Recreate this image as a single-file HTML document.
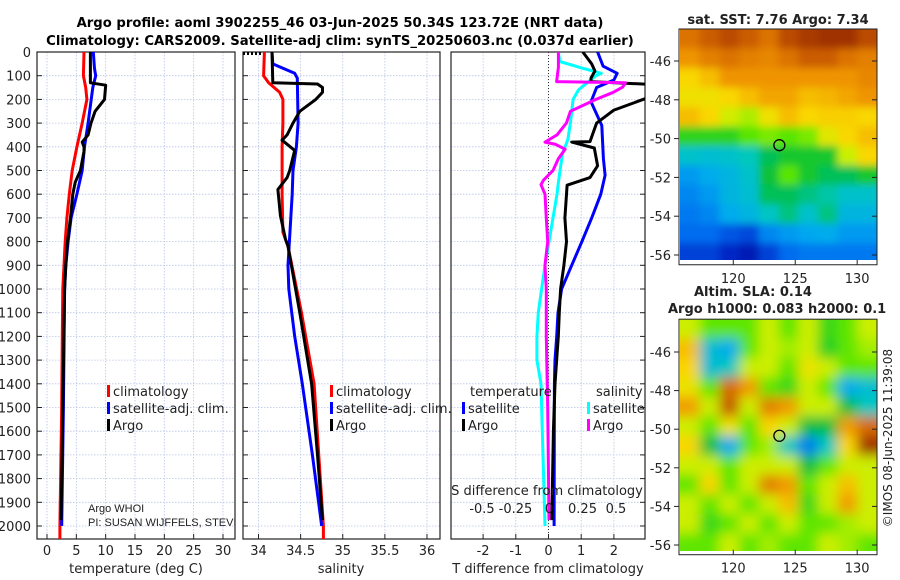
<!DOCTYPE html>
<html><head><meta charset="utf-8"><style>
body{margin:0;background:#fff;}
svg{display:block;font-family:"DejaVu Sans","Liberation Sans",sans-serif;}
</style></head><body>
<svg id="c" width="900" height="580" viewBox="0 0 900 580" xmlns="http://www.w3.org/2000/svg">
<defs>
<clipPath id="cp1"><rect x="37" y="52" width="198" height="487"/></clipPath>
<clipPath id="cp2"><rect x="243" y="52" width="197" height="487"/></clipPath>
<clipPath id="cp3"><rect x="451" y="52" width="194" height="487"/></clipPath>
<clipPath id="cpm1"><rect x="680" y="29" width="197" height="231"/></clipPath>
<clipPath id="cpm2"><rect x="680" y="319" width="197" height="232"/></clipPath>
<filter id="bl1"><feGaussianBlur stdDeviation="4"/></filter>
<filter id="bl2"><feGaussianBlur stdDeviation="6"/></filter>
</defs>
<text x="340" y="27" text-anchor="middle" font-weight="bold" font-size="13.2">Argo profile: aoml 3902255_46 03-Jun-2025 50.34S 123.72E (NRT data)</text>
<text x="340" y="45" text-anchor="middle" font-weight="bold" font-size="13.2">Climatology: CARS2009. Satellite-adj clim: synTS_20250603.nc (0.037d earlier)</text>
<g id="g"></g>
</svg>
<script>
// depth axis
const depthTicks=[0,100,200,300,400,500,600,700,800,900,1000,1100,1200,1300,1400,1500,1600,1700,1800,1900,2000];
// temperature panel
const tTicks=[0,5,10,15,20,25,30];
const tClimD=[0,100,150,200,300,400,500,600,700,800,900,1000,1200,1500,2000,2060];
const tClimV=[6.3,6.2,6.6,6.8,6.0,5.1,4.3,3.8,3.4,3.1,2.9,2.7,2.6,2.5,2.2,2.2];
const tSatD=[0,70,100,150,300,400,500,600,700,800,900,1000,1500,2000];
const tSatV=[7.9,8.1,8.3,7.8,7.0,6.4,6.0,5.1,4.1,3.6,3.2,3.0,2.8,2.5];
const tArgoD=[0,130,140,200,250,300,350,380,400,420,500,550,600,700,800,900,1000,1500,1975];
const tArgoV=[7.4,7.4,10,9.8,8.2,7.5,7.0,6.0,6.3,6.3,5.7,4.8,4.4,4.0,3.5,3.2,3.0,2.7,2.4];
// salinity panel
const sTicks=[34,34.5,35,35.5,36];
const sClimD=[0,100,130,170,200,300,400,500,600,760,820,1100,1400,2000,2060];
const sClimV=[34.07,34.06,34.12,34.25,34.29,34.29,34.28,34.28,34.28,34.29,34.35,34.51,34.66,34.77,34.77];
const sSatD=[0,50,70,90,110,300,400,500,600,900,1000,1200,1400,1700,2000];
const sSatV=[34.16,34.17,34.30,34.43,34.46,34.47,34.45,34.41,34.40,34.35,34.36,34.43,34.52,34.64,34.75];
const sArgoD=[0,130,135,150,170,200,250,300,350,372,415,500,530,580,690,790,820,1100,1400,1700,1975];
const sArgoV=[34.16,34.17,34.70,34.76,34.76,34.68,34.49,34.41,34.34,34.28,34.43,34.37,34.34,34.23,34.26,34.32,34.35,34.49,34.63,34.70,34.76];
// difference panel
const dtTicks=[-2,-1,0,1,2];
const dsTicks=[-0.5,-0.25,0,0.25,0.5];
const dsTickLabels=["-0.5","-0.25","0","0.25","0.5"];
const dtArgoD=[0,50,80,110,125,137,185,245,300,378,380,405,480,530,562,600,700,800,900,1000,1100,1200,1400,1600,1975];
const dtArgoV=[1.05,1.32,1.42,1.3,1.3,3.2,3.2,2.0,1.47,1.27,0.71,1.4,1.5,1.27,0.57,0.55,0.5,0.55,0.47,0.37,0.33,0.3,0.2,0.15,0.1];
const dtSatD=[0,60,90,118,150,210,310,450,520,600,700,800,900,1000,1100,1200,1300,1400,2000];
const dtSatV=[1.5,1.67,2.1,2.0,1.47,1.3,1.63,1.68,1.73,1.6,1.32,1.02,0.71,0.4,0.29,0.25,0.2,0.18,0.17];
const dsSatD=[0,40,70,90,100,160,200,300,370,430,550,600,700,900,1000,1100,1200,1300,1400,1600,2000];
const dsSatV=[0.07,0.08,0.26,0.39,0.35,0.22,0.18,0.16,0.14,0.10,0.07,0.06,0.03,-0.03,-0.055,-0.08,-0.09,-0.09,-0.06,-0.05,-0.03];
const dsArgoD=[0,40,65,125,130,148,170,200,250,300,350,380,390,410,450,500,540,560,600,700,800,900,1000,1200,1500,1975];
const dsArgoV=[0.07,0.07,0.07,0.057,0.57,0.55,0.48,0.35,0.16,0.13,0.06,-0.03,0.05,0.12,0.07,0.03,-0.04,-0.06,-0.03,-0.02,-0.01,-0.03,-0.02,-0.02,-0.01,0];
// maps
const lonTicks=[120,125,130];
const latTicks=[-46,-48,-50,-52,-54,-56];
const argoLon=123.72, argoLat=-50.34;
const sstGrid=[
[10.5,10.8,11,10.8,10.5,11,11.2,11.5,11.3,11],
[10,10.3,10.5,10.3,10.2,10.5,10.8,10.8,10.5,10.3],
[9.2,9.5,10,10,10,10,10,10,10,10.2],
[9,9,9.2,9.5,9.8,9.8,9.5,9.6,9.8,10],
[9.5,9.2,8.6,8.3,9,9.5,9.2,9.3,9.3,9.2],
[7.5,7.5,7.5,7.8,8,7.8,8,8.8,9.2,9.5],
[6.3,6.2,6.3,6.5,7,7.3,7.3,7.3,8.5,9.2],
[5.5,5.8,6,6.3,7.2,7.8,7.3,7,7,7.3],
[5.2,5.5,6,6.2,7,7,6.8,6.6,6.3,6.3],
[5,5.2,5.8,6,6.4,6.8,6.3,6.8,6,6],
[4.8,4.8,4.5,4.3,5.2,5.5,5.7,5.8,5.5,5.5],
[4.2,4.2,3.8,3.6,4.2,4.8,5,5,5,5]];
const slaGrid=[
[0.05,0,0,0,0.05,0,0.05,-0.02,0,0.05],
[0.12,-0.12,-0.15,0,0.05,0.03,0.05,-0.03,0,0.03],
[0.1,-0.12,-0.1,0.05,0.05,0,0.08,0.05,0,0],
[0.08,0,0.2,0.15,0,-0.02,0.05,0,-0.15,-0.12],
[0.15,0.05,0.22,0.05,0.18,0.15,0.05,0.05,-0.05,-0.1],
[0.05,0,0.08,0,0.1,0.05,-0.05,-0.05,0.15,0.2],
[0.1,-0.05,-0.15,0,0.03,-0.1,-0.2,-0.1,0.1,0.25],
[0.05,0.05,0,0.05,0.05,0.05,-0.05,0,0.05,0.05],
[0,0.1,0,0.05,0.18,0.15,0,0.05,0.12,0.05],
[0.05,0,0.05,0,0.05,0.12,-0.02,0.05,0.15,0.05],
[0.05,-0.02,0,0.05,0,0.05,0,0,0.03,0.05],
[0,0,0.05,0,0.03,0,0,0.05,0.03,0]];

const NS='http://www.w3.org/2000/svg';
const G=document.getElementById('g');
function mk(tag,attrs,parent){const e=document.createElementNS(NS,tag);for(const k in attrs)e.setAttribute(k,attrs[k]);(parent||G).appendChild(e);return e;}
const Y0=52,YB=539,PXD=0.237;
const yD=d=>Y0+d*PXD;
function lin(d0,d1,r0,r1){return v=>r0+(v-d0)*(r1-r0)/(d1-d0);}

function panel(name,x0,x1,xs,ticks,labels,clip,leftLabels,rightTicks){
  const g=mk('g',{});
  
  
  depthTicks.forEach(d=>{const l=mk('line',{x1:x0,x2:x1,y1:yD(d),y2:yD(d),stroke:'#b8c4e8','stroke-width':0.8,'stroke-dasharray':'1.5,1.5'},g);
    });
  ticks.forEach(t=>{const x=xs(t);const l=mk('line',{x1:x,x2:x,y1:Y0,y2:YB,stroke:'#b8c4e8','stroke-width':0.8,'stroke-dasharray':'1.5,1.5'},g);
    });
  const fr=mk('rect',{x:x0,y:Y0,width:x1-x0,height:YB-Y0,fill:'none',stroke:'#222','stroke-width':1.2},g);
  
  depthTicks.forEach(d=>{
    const tx=rightTicks?x1:x0; const dir=rightTicks?-5:5;
    mk('line',{x1:tx,x2:tx+dir,y1:yD(d),y2:yD(d),stroke:'#222'},g);
    if(leftLabels){const t=mk('text',{x:x0-6,y:yD(d)+5,'text-anchor':'end','font-size':13,fill:'#222'},g);t.textContent=d;
      }
  });
  ticks.forEach((t,i)=>{const x=xs(t);mk('line',{x1:x,x2:x,y1:YB,y2:YB-5,stroke:'#222'},g);
    if(labels){const tt=mk('text',{x:x,y:555,'text-anchor':'middle','font-size':13,fill:'#222'},g);tt.textContent=labels[i];
      }});
  return g;
}
function line(g,name,D,V,xs,color,clip,w){
  const pts=D.map((d,i)=>xs(V[i]).toFixed(1)+','+yD(d).toFixed(1)).join(' ');
  const p=mk('polyline',{points:pts,fill:'none',stroke:color,'stroke-width':w||3,'stroke-linejoin':'round','clip-path':'url(#'+clip+')'},g);
  
}
function txt(g,name,x,y,s,opts){const t=mk('text',Object.assign({x:x,y:y,'font-size':13,fill:'#222'},opts||{}),g);t.textContent=s;
  return t;}
function legItem(g,name,x,y,color,label){
  const r=mk('rect',{x:x,y:y-11,width:3,height:12,fill:color},g);
  
  txt(g,name,x+6,y,label);
}

// panel 1
const xT=lin(0,30,47,223);
let g1=panel('temperature-panel',37,235,xT,tTicks,tTicks.map(String),'cp1',true,false);
line(g1,'temperature-climatology-line',tClimD,tClimV,xT,'#f00','cp1');
line(g1,'temperature-satellite-line',tSatD,tSatV,xT,'#00f','cp1');
line(g1,'temperature-argo-line',tArgoD,tArgoV,xT,'#000','cp1');
txt(g1,'x-axis-title-temperature',136,573,'temperature (deg C)',{'text-anchor':'middle'});
legItem(g1,'legend-climatology',107,396,'#f00','climatology');
legItem(g1,'legend-satellite-adj',107,413,'#00f','satellite-adj. clim.');
legItem(g1,'legend-argo',107,430,'#000','Argo');
txt(g1,'argo-institution-note',88,512,'Argo WHOI',{'font-size':11,'font-family':'"Liberation Sans Narrow","Liberation Sans",sans-serif'});
txt(g1,'argo-pi-note',88,526,'PI: SUSAN WIJFFELS, STEVEN',{'font-size':11,'font-family':'"Liberation Sans Narrow","Liberation Sans",sans-serif','clip-path':'url(#cp1)'});

// panel 2
const xS=lin(34,36,258.5,427);
let g2=panel('salinity-panel',243,440,xS,sTicks,sTicks.map(String),'cp2',false,false);
const dt=mk('line',{x1:243,x2:265,y1:53.5,y2:53.5,stroke:'#000','stroke-width':3,'stroke-dasharray':'2,2'},g2);

line(g2,'salinity-climatology-line',sClimD,sClimV,xS,'#f00','cp2');
line(g2,'salinity-satellite-line',sSatD,sSatV,xS,'#00f','cp2');
line(g2,'salinity-argo-line',sArgoD,sArgoV,xS,'#000','cp2');
txt(g2,'x-axis-title-salinity',341,573,'salinity',{'text-anchor':'middle'});
legItem(g2,'legend-climatology-s',330,396,'#f00','climatology');
legItem(g2,'legend-satellite-adj-s',330,413,'#00f','satellite-adj. clim.');
legItem(g2,'legend-argo-s',330,430,'#000','Argo');

// panel 3
const xDT=lin(0,1,548.5,581.2);
const xDS=lin(0,0.5,549,616);
let g3=panel('difference-panel',451,645,xDT,dtTicks,dtTicks.map(String),'cp3',false,true);
const z=mk('line',{x1:xDT(0),x2:xDT(0),y1:Y0,y2:YB,stroke:'#333','stroke-width':1,'stroke-dasharray':'1,2'},g3);

line(g3,'t-diff-satellite-line',dtSatD,dtSatV,xDT,'#00f','cp3');
line(g3,'s-diff-satellite-line',dsSatD,dsSatV,xDS,'#0ff','cp3');
line(g3,'t-diff-argo-line',dtArgoD,dtArgoV,xDT,'#000','cp3');
line(g3,'s-diff-argo-line',dsArgoD,dsArgoV,xDS,'#f0f','cp3');
txt(g3,'x-axis-title-t-diff',548,573,'T difference from climatology',{'text-anchor':'middle'});
txt(g3,'s-diff-axis-title',547,495,'S difference from climatology',{'text-anchor':'middle'});
dsTicks.forEach((t,i)=>{txt(g3,'s-diff-tick-label',xDS(t),513,dsTickLabels[i],{'text-anchor':'middle'});});
txt(g3,'legend-temperature-header',470,396,'temperature');
txt(g3,'legend-salinity-header',596,396,'salinity');
legItem(g3,'legend-t-satellite',462,413,'#00f','satellite');
legItem(g3,'legend-t-argo',462,430,'#000','Argo');
legItem(g3,'legend-s-satellite',587,413,'#0ff','satellite');
legItem(g3,'legend-s-argo',587,430,'#f0f','Argo');

// colormap
const cmT=[0,.1,.22,.33,.42,.5,.58,.66,.74,.84,.93,1];
const cmC=[[0,0,130],[0,40,200],[0,110,240],[0,170,240],[0,200,190],[0,190,60],[90,230,0],[200,240,0],[250,220,0],[240,150,0],[210,100,0],[160,50,0]];
function cmap(t){t=Math.max(0,Math.min(1,t));let i=0;while(i<cmT.length-2&&t>cmT[i+1])i++;
  const f=(t-cmT[i])/(cmT[i+1]-cmT[i]);const a=cmC[i],b=cmC[i+1];
  return 'rgb('+a.map((v,k)=>Math.round(v+(b[k]-v)*f)).join(',')+')';}
function map(name,grid,vmin,vmax,top,bottom,latTop,clip,filt,lonT){
  const g=mk('g',{});
  
  const xL=lin(115.7,131.6,680,877);
  const yL=lin(-46,-56,top,bottom);
  const lonEdges=[115.7,131.6], latBot=-56.4;
  const nr=grid.length,nc=grid[0].length;
  const dlon=(lonEdges[1]-lonEdges[0])/nc, dlat=(latTop-latBot)/nr;
  const hg=mk('g',{'clip-path':'url(#'+clip+')'},g);
  const inner=mk('g',{filter:'url(#'+filt+')'},hg);
  grid.forEach((row,i)=>row.forEach((v,j)=>{
    let x=xL(lonEdges[0]+j*dlon), y=yL(latTop-i*dlat);
    let w=xL(lonEdges[0]+dlon)-680, h=yL(latTop-dlat)-yL(latTop);
    const ex=12;
    const x0=j===0?x-ex:x, y0=i===0?y-ex:y;
    const c=mk('rect',{x:x0.toFixed(1),y:y0.toFixed(1),width:(w+(j===0||j===nc-1?ex:0)+0.5).toFixed(1),height:(h+(i===0||i===nr-1?ex:0)+0.5).toFixed(1),fill:cmap((v-vmin)/(vmax-vmin))},inner);
    
  }));
  const fb=yL(latBot);
  const fr=mk('rect',{x:679,y:yL(latTop),width:198,height:fb-yL(latTop)+2,fill:'none',stroke:'#222','stroke-width':1},g);
  
  latTicks.forEach(l=>{const y=yL(l);mk('line',{x1:679,x2:674,y1:y,y2:y,stroke:'#222'},g);mk('line',{x1:877,x2:872,y1:y,y2:y,stroke:'#222'},g);
    txt(g,'lat-tick-label',671,y+5,String(l),{'text-anchor':'end'});});
  lonTicks.forEach(l=>{const x=xL(l);mk('line',{x1:x,x2:x,y1:fb+2,y2:fb-3,stroke:'#222'},g);
    if(lonT)txt(g,'lon-tick-label',x,fb+20,String(l),{'text-anchor':'middle'});});
  const ci=mk('circle',{cx:xL(argoLon),cy:yL(argoLat),r:5.5,fill:'none',stroke:'#000','stroke-width':1.3},g);
  
}
map('sst-map',sstGrid,3,11.3,61,255,-44.35,'cpm1','bl1',true);
map('sla-map',slaGrid,-0.35,0.25,352,545,-44.3,'cpm2','bl2',true);
txt(G,'sst-map-title',778,24,'sat. SST: 7.76 Argo: 7.34',{'text-anchor':'middle','font-weight':'bold'});
txt(G,'sla-map-title',694,296,'Altim. SLA: 0.14',{'font-weight':'bold'});
txt(G,'argo-height-title',668,313,'Argo h1000: 0.083 h2000: 0.1',{'font-weight':'bold'});
txt(G,'imos-timestamp',0,0,'\u00a9IMOS 08-Jun-2025 11:39:08',{'transform':'translate(892,438) rotate(-90)','text-anchor':'middle','font-size':12});
</script>
</body></html>
